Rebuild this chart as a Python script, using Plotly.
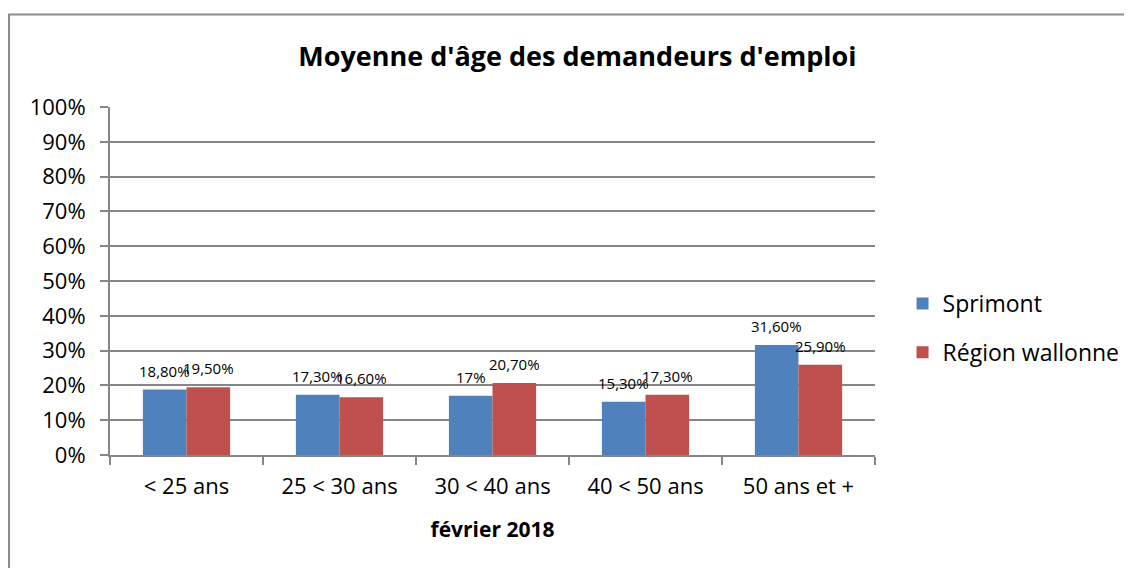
import plotly.graph_objects as go

categories = ["< 25 ans", "25 < 30 ans", "30 < 40 ans", "40 < 50 ans", "50 ans et +"]
sprimont = [18.8, 17.3, 17.0, 15.3, 31.6]
wallonie = [19.5, 16.6, 20.7, 17.3, 25.9]
sprimont_labels = ["18,80%", "17,30%", "17%", "15,30%", "31,60%"]
wallonie_labels = ["19,50%", "16,60%", "20,70%", "17,30%", "25,90%"]
y_ticks = list(range(0, 101, 10))
y_tick_labels = [f"{v}%" for v in y_ticks]

FONT = "Open Sans"
GRID = "#868686"
BAR_HALF = 21.8  # px, half width of one bar (label centring)

fig = go.Figure()
fig.add_trace(go.Bar(
    x=categories, y=sprimont, name="Sprimont", legendgroup="a",
    marker=dict(color="#4F81BD", line=dict(width=0)),
))
fig.add_trace(go.Bar(
    x=categories, y=wallonie, name="Région wallonne", legendgroup="b",
    marker=dict(color="#C0504D", line=dict(width=0)),
))

for series, labels, shift in ((sprimont, sprimont_labels, -BAR_HALF),
                              (wallonie, wallonie_labels, BAR_HALF)):
    for cat, val, lab in zip(categories, series, labels):
        fig.add_annotation(x=cat, y=val, text=lab, xref="x", yref="y",
                           showarrow=False, xanchor="center", yanchor="bottom",
                           xshift=shift, yshift=7,
                           font=dict(family=FONT, size=15, color="black"))

fig.update_layout(
    width=1132, height=568,
    margin=dict(l=102, r=265, t=99, b=121),
    paper_bgcolor="white", plot_bgcolor="white",
    barmode="group", bargap=0.43, bargroupgap=0,
    font=dict(family=FONT, color="black"),
    title=dict(text="<b>Moyenne d'âge des demandeurs d'emploi</b>",
               x=0.503, xanchor="center", y=0.914, yanchor="middle",
               font=dict(family=FONT, size=27, color="black")),
    legend=dict(x=1.036, y=0.365, xanchor="left", yanchor="middle",
                font=dict(family=FONT, size=23, color="black"),
                tracegroupgap=16, bgcolor="rgba(0,0,0,0)"),
    showlegend=True,
)
fig.update_xaxes(
    showline=True, linecolor=GRID, linewidth=2,
    ticks="outside", tickson="boundaries", ticklen=8, tickcolor=GRID, tickwidth=2,
    tickfont=dict(family=FONT, size=22, color="black"),
    ticklabelstandoff=11,
    title=dict(text="<b>février 2018</b>", font=dict(family=FONT, size=21, color="black"), standoff=23),
    showgrid=False,
)
fig.update_yaxes(
    range=[0, 100], tickvals=y_ticks, ticktext=y_tick_labels,
    showline=True, linecolor=GRID, linewidth=2,
    ticks="outside", ticklen=8, tickcolor=GRID, tickwidth=2,
    ticklabelstandoff=10,
    showgrid=True, gridcolor=GRID, gridwidth=2,
    tickfont=dict(family=FONT, size=22, color="black"),
    zeroline=False,
)
# outer chart frame (cropped at right and bottom)
fig.add_shape(type="rect", xref="paper", yref="paper",
              x0=-0.132, x1=1.6, y0=-0.6, y1=1.266,
              line=dict(color="#8c8c8c", width=2), fillcolor="rgba(0,0,0,0)", layer="below")

fig.write_html("out.html")
